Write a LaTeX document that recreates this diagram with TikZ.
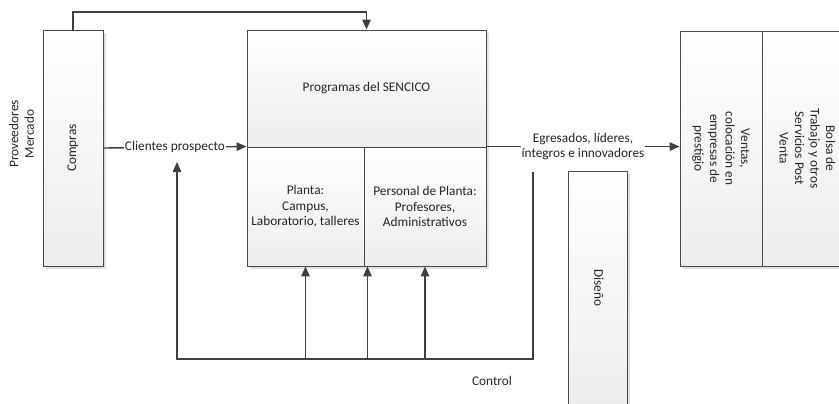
\documentclass[tikz,border=0pt]{standalone}
\usepackage{fontspec}
\setmainfont{Carlito}
\usetikzlibrary{arrows.meta,shadows}
\definecolor{linegray}{HTML}{404040}
\definecolor{boxgray}{HTML}{4A4A4A}
\newcommand{\rotlbl}[2]{\rotatebox{#1}{\begin{tabular}{@{}c@{}}#2\end{tabular}}}

\begin{document}
\begin{tikzpicture}[x=1pt, y=-1pt, font=\fontsize{13.3}{15.5}\selectfont, text=black!85,
  box/.style={draw=boxgray, line width=0.9pt, top color=white, bottom color=black!7, inner sep=0pt,
    drop shadow={shadow xshift=3pt, shadow yshift=-3pt, fill=black!12, opacity=1}},
  line/.style={draw=linegray, line width=1.4pt},
  flow/.style={line, -{Triangle[length=10pt,width=8.5pt]}},
  lbl/.style={fill=white, inner sep=1pt}]
\useasboundingbox (0,0) rectangle (839,404);
\node (prov) at (23,134) {\rotlbl{90}{Proveedores\\Mercado}};
\node[box, minimum width=60pt, minimum height=236pt] (compras) at (73,148) {\rotlbl{90}{Compras}};
\node[box, minimum width=239pt, minimum height=117pt] (prog) at (366.5,88.5) {Programas del SENCICO};
\node[box, minimum width=117pt, minimum height=119pt, align=center] (planta) at (305.5,206.5) {Planta:\\Campus,\\Laboratorio, talleres};
\node[box, minimum width=122pt, minimum height=119pt, align=center] (personal) at (425,206.5) {Personal de Planta:\\Profesores,\\Administrativos};
\node[box, minimum width=59pt, minimum height=234pt] (dis) at (597.5,288) {\rotlbl{-90}{Diseño}};
\node[box, minimum width=82pt, minimum height=235pt] (ventas) at (721,148.5) {\rotlbl{-90}{Ventas,\\colocación en\\empresas de\\prestigio}};
\node[box, minimum width=88pt, minimum height=235pt] (bolsa) at (806,148.5) {\rotlbl{-90}{Bolsa de\\Trabajo y otros\\Servicios Post\\Venta}};
\node (ctl) at (492,381) {Control};
\coordinate (top) at (73,12);
\coordinate (c1) at (533,172);
\coordinate (c2) at (533,359);
\coordinate (c3) at (177,359);
\coordinate (c4) at (177,162);
\coordinate (mid) at ([xshift=3pt]planta.south east);
\draw[flow] (compras.north) -- (top) -| (prog.north);
\draw[flow] (compras.east) -- node[lbl] (cli) {Clientes prospecto} (planta.north west);
\draw[flow] (personal.north east) -- node[lbl, align=center] (egr) {Egresados, líderes,\\íntegros e innovadores} (ventas.west |- personal.north east);
\draw[flow] (c1) -- (c2) -- (c3) -- (c4);
\draw[flow] (planta.south |- c2) -- (planta.south);
\draw[flow] (mid |- c2) -- (mid);
\draw[flow] (personal.south |- c2) -- (personal.south);
\end{tikzpicture}
\end{document}
